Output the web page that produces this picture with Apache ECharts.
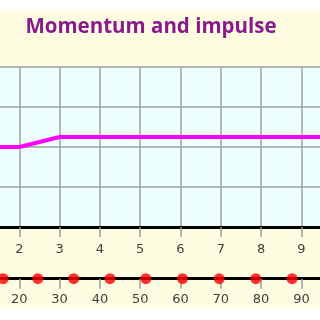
<!DOCTYPE html>
<html><head><meta charset="utf-8">
<script src="https://cdn.jsdelivr.net/npm/echarts@6/dist/echarts.min.js"></script>
<style>html,body{margin:0;padding:0;background:#fff}#c{width:320px;height:320px}</style>
</head><body><div id="c"></div>
<script>
const titleText = 'Momentum and impulse';
const lineX = [1, 2, 3, 10];
const lineY = [2, 2, 2.25, 2.25];
const dotX = [16, 24.6, 33.5, 42.5, 51.4, 60.5, 69.6, 78.7, 87.7, 96.8];
const dotY = [0, 0, 0, 0, 0, 0, 0, 0, 0, 0];

const chart = echarts.init(document.getElementById('c'), null, {renderer: 'canvas'});
const gridL = -21, gridW = 362.7;
chart.setOption({
  animation: false,
  backgroundColor: '#fffde1',
  title: {
    text: titleText, left: 146, top: 12, textAlign: 'center',
    textStyle: {color: '#8a1a8c', fontFamily: 'Open Sans', fontWeight: 'bold', fontSize: 20.5}
  },
  graphic: [
    {type: 'rect', shape: {x: 0, y: 0, width: 320, height: 11}, style: {fill: '#ffffff'}, z: 100},
    {type: 'rect', shape: {x: 0, y: 308, width: 320, height: 12}, style: {fill: '#ffffff'}, z: 100}
  ],
  grid: [
    {left: gridL, width: gridW, top: 67, height: 160, show: true, backgroundColor: '#eeffff', borderWidth: 0,
     containLabel: false, outerBoundsMode: 'none'},
    {left: gridL, width: gridW, top: 250, height: 28.7, show: false, containLabel: false, outerBoundsMode: 'none'}
  ],
  xAxis: [
    {gridIndex: 0, type: 'value', min: 1, max: 10, interval: 1,
     axisLine: {show: true, onZero: false, lineStyle: {color: '#000', width: 3}},
     axisTick: {show: true, length: 10, lineStyle: {color: '#9a9a9a', width: 1.5}},
     axisLabel: {color: '#404040', fontFamily: 'DejaVu Sans', fontSize: 13, margin: 16},
     splitLine: {show: true, lineStyle: {color: '#a0a0a0', width: 1.5}}},
    {gridIndex: 1, type: 'value', min: 10, max: 100, interval: 10,
     axisLine: {show: true, onZero: false, lineStyle: {color: '#000', width: 3}},
     axisTick: {show: true, length: 10, lineStyle: {color: '#9a9a9a', width: 1.5}},
     axisLabel: {color: '#404040', fontFamily: 'DejaVu Sans', fontSize: 13, margin: 14},
     splitLine: {show: false}}
  ],
  yAxis: [
    {gridIndex: 0, type: 'value', min: 0, max: 4, interval: 1,
     axisLine: {show: false}, axisTick: {show: false}, axisLabel: {show: false},
     splitLine: {show: true, lineStyle: {color: '#a0a0a0', width: 1.5}}},
    {gridIndex: 1, type: 'value', min: 0, max: 1, show: false, splitLine: {show: false}}
  ],
  series: [
    {type: 'line', xAxisIndex: 0, yAxisIndex: 0, data: lineX.map((x, i) => [x, lineY[i]]),
     showSymbol: false, lineStyle: {color: '#ff00ff', width: 4}, z: 5},
    {type: 'scatter', xAxisIndex: 1, yAxisIndex: 1, data: dotX.map((x, i) => [x, dotY[i]]),
     symbolSize: 11, itemStyle: {color: '#ff0000'}, z: 5, clip: false}
  ]
});
</script></body></html>
